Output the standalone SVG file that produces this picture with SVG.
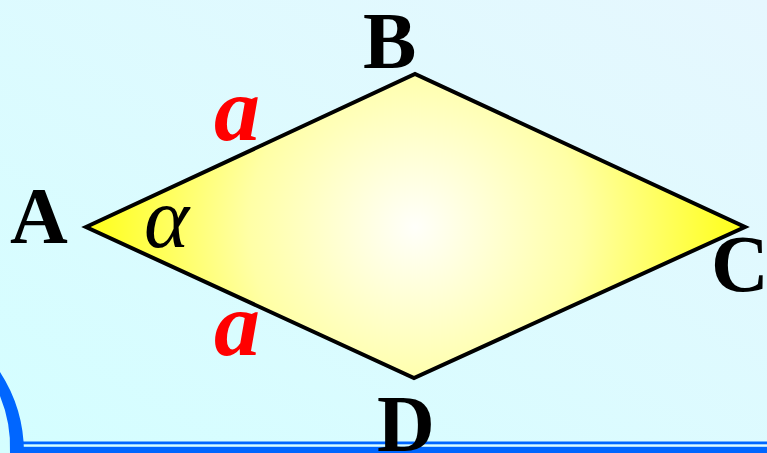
<svg xmlns="http://www.w3.org/2000/svg" width="767" height="453" viewBox="0 0 767 453">
  <defs>
    <linearGradient id="bg" x1="0" y1="1" x2="1" y2="0">
      <stop offset="0" stop-color="#D4FEFF"/>
      <stop offset="1" stop-color="#E6F7FE"/>
    </linearGradient>
    <radialGradient id="fill" gradientUnits="userSpaceOnUse" cx="415" cy="227" r="332">
      <stop offset="0" stop-color="#FFFFFA"/>
      <stop offset="0.5" stop-color="#FFFFA6"/>
      <stop offset="1" stop-color="#FFFF14"/>
    </radialGradient>
    <style>
      .vx { font-family: "Liberation Serif", "Times New Roman", serif; font-weight: bold; font-size: 80px; fill: #000; }
      .side { font-family: "Liberation Serif", "Times New Roman", serif; font-weight: bold; font-style: italic; font-size: 92px; fill: #FF0000; }
      .ang { font-family: "Liberation Serif", "Times New Roman", serif; font-style: italic; font-size: 86px; fill: #000; }
      .blue { fill: #0066FF; }
    </style>
  </defs>
  <rect width="767" height="453" fill="url(#bg)"/>
  <g id="decor">
    <path class="blue" d="M0,372 A149,149 0 0 1 24,453 L10,453 A135,135 0 0 0 0,396 Z"/>
    <rect class="blue" x="22" y="441.5" width="745" height="2.8"/>
    <rect class="blue" x="22" y="446.8" width="745" height="6.2"/>
  </g>
  <g id="rhombus">
    <polygon points="86,227 415,74 745,227 414,378" fill="url(#fill)" stroke="#000" stroke-width="4" stroke-linejoin="miter"/>
  </g>
  <g id="angle-alpha"><text class="ang" x="144" y="247">α</text></g>
  <g id="side-AB"><text class="side" x="214" y="140">a</text></g>
  <g id="side-AD"><text class="side" x="214" y="355">a</text></g>
  <g id="vertex-A"><text class="vx" x="10" y="243">A</text></g>
  <g id="vertex-B"><text class="vx" x="363" y="68">B</text></g>
  <g id="vertex-C"><text class="vx" x="711" y="291">C</text></g>
  <g id="vertex-D"><text class="vx" x="377" y="451">D</text></g>
</svg>
